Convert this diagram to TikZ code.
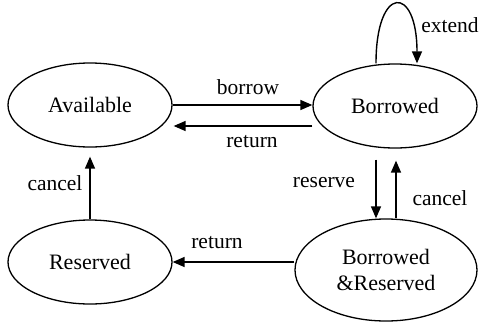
\documentclass[tikz,border=0pt]{standalone}
\usepackage{fontspec}
\setmainfont{Liberation Serif}
\usetikzlibrary{shapes.geometric,arrows.meta,calc}
\begin{document}
\begin{tikzpicture}[x=1pt,y=-1pt,
  state/.style={draw,ellipse,line width=1.3pt,inner sep=0pt,minimum width=164pt,minimum height=84pt,font=\fontsize{22}{26}\selectfont,align=center},
  edge/.style={line width=1.4pt,-{Triangle[length=12pt,width=10pt]}},
  lbl/.style={font=\fontsize{21.5}{26}\selectfont,inner sep=0pt}]
\useasboundingbox (0,0) rectangle (479,322);
\node[state] (av) at (90,105) {Available};
\node[state] (bo) at (395,106) {Borrowed};
\node[state,minimum width=182pt,minimum height=102pt] (br) at (386,270) {Borrowed\\\&Reserved};
\node[state] (re) at (90,262) {Reserved};
% edges
\draw[edge] (av.east) -- (av.east -| bo.west);
\draw[edge] ([yshift=-20pt]bo.west) -- ([yshift=-20pt,xshift=1pt]bo.west -| av.east);
\draw[edge] ([xshift=-19pt]bo.north) .. controls +(0,-79) and +(0,-79) .. ([xshift=22pt]bo.north);
\draw[edge] ([xshift=-19pt,yshift=-11pt]bo.south) -- ([xshift=-10pt]br.north);
\draw[edge] ([xshift=10pt]br.north) -- ([xshift=1pt,yshift=-12pt]bo.south);
\draw[edge] ([yshift=8pt]br.west) -- (re.east);
\draw[edge] (re.north) -- ([yshift=-9pt]av.south);
% labels
\node[lbl] (l1) at (248,87) {borrow};
\node[lbl] (l2) at (252,142) {return};
\node[lbl] (l3) at (450,25) {extend};
\node[lbl] (l4) at (324,183) {reserve};
\node[lbl] (l5) at (440,198) {cancel};
\node[lbl] (l6) at (55,183) {cancel};
\node[lbl] (l7) at (217,243) {return};
\end{tikzpicture}
\end{document}
